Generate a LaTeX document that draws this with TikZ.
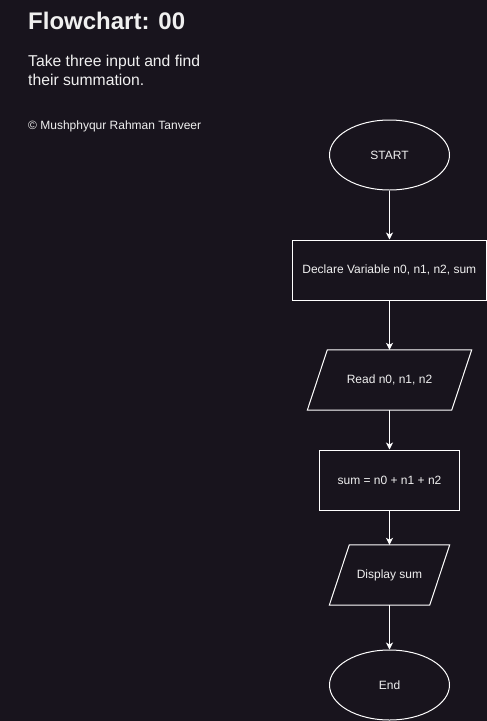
\documentclass[tikz,border=0pt]{standalone}
\usepackage{fontspec}
\setmainfont{Liberation Sans}
\usetikzlibrary{shapes.geometric,arrows.meta}
\definecolor{bg}{HTML}{18141D}
\definecolor{fg}{HTML}{F0F0F0}
\tikzset{
  every node/.style={text=fg, font=\fontsize{12}{14}\selectfont},
  terminal/.style={ellipse, draw=white, line width=1pt, minimum width=120pt, minimum height=70pt, inner sep=0pt},
  procbox/.style={rectangle, draw=white, line width=1pt, minimum height=60pt, inner sep=0pt},
  iobox/.style={rectangle, minimum height=60pt, inner sep=0pt},
  iolines/.style={draw=white, line width=1pt, line join=miter},
  flow/.style={draw=white, line width=1pt, -{Stealth[length=7pt,width=7pt,inset=2pt]}},
  plaintext/.style={anchor=base west, inner sep=0pt, align=left}
}
\begin{document}
\begin{tikzpicture}[x=1pt,y=-1pt]
\fill[bg] (0,0) rectangle (487,721);
\useasboundingbox (0,0) rectangle (487,721);

\node[plaintext, font=\fontsize{24}{28}\bfseries\selectfont] (title) at (28,29) {Flowchart: 00};
\node[plaintext, font=\fontsize{15.7}{19}\selectfont] (desc) at (28,85.7) {Take three input and find\\their summation.};
\node[plaintext] (copy) at (28,129) {© Mushphyqur Rahman Tanveer};

\node[terminal] (start) at (389.5,155) {START};
\node[procbox, minimum width=194pt] (decl) at (389.3,270) {Declare Variable n0, n1, n2, sum};
\node[iobox, minimum width=144pt] (read) at (389.5,380) {Read n0, n1, n2};
\node[procbox, minimum width=140pt] (calc) at (389.5,480) {sum = n0 + n1 + n2};
\node[iobox, minimum width=100pt] (disp) at (389.5,575) {Display sum};
\node[terminal] (end) at (389.5,685) {End};

\draw[iolines] ([xshift=-10pt]read.south west) -- ([xshift=-10pt]read.south east) -- ([xshift=10pt]read.north east) -- ([xshift=10pt]read.north west) -- cycle;
\draw[iolines] ([xshift=-10pt]disp.south west) -- ([xshift=-10pt]disp.south east) -- ([xshift=10pt]disp.north east) -- ([xshift=10pt]disp.north west) -- cycle;

\draw[flow] (start.south) -- (start.south |- decl.north);
\draw[flow] (start.south |- decl.south) -- (start.south |- read.north);
\draw[flow] (read.south) -- (calc.north);
\draw[flow] (calc.south) -- (disp.north);
\draw[flow] (disp.south) -- (end.north);
\end{tikzpicture}
\end{document}
